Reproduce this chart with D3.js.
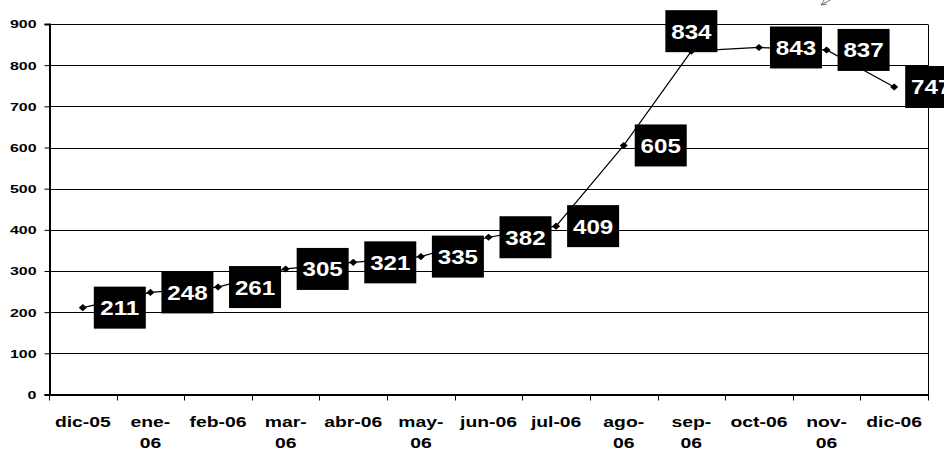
<!DOCTYPE html>
<html><head><meta charset="utf-8">
<script src="https://cdn.jsdelivr.net/npm/d3@7"></script>
<style>body{margin:0;background:#fff}svg{display:block}</style>
</head><body>
<svg id="c" width="944" height="450"></svg>
<script>
const categories = ["dic-05","ene-06","feb-06","mar-06","abr-06","may-06","jun-06","jul-06","ago-06","sep-06","oct-06","nov-06","dic-06"];
const values = [211,248,261,305,321,335,382,409,605,834,843,837,747];
const labelPlacement = ["right","right","right","right","right","right","right","right","right","above","right","right","right"];
const yTicks = [0,100,200,300,400,500,600,700,800,900];

const W = 944, H = 450;
const m = {left:49, right:928, top:24, bottom:394.5};
const font = "'Liberation Sans', Arial, sans-serif";
const svg = d3.select("#c");

const x = d3.scaleBand().domain(categories).range([m.left, m.right]);
const y = d3.scaleLinear().domain([0,900]).range([m.bottom, m.top]);

// gridlines
svg.append("g").selectAll("line").data(yTicks.filter(d=>d>0)).join("line")
  .attr("x1", m.left).attr("x2", m.right)
  .attr("y1", d=>Math.round(y(d))+0.5).attr("y2", d=>Math.round(y(d))+0.5)
  .attr("stroke", "#000").attr("stroke-width", 1);
// right border
svg.append("line").attr("x1", m.right+0.5).attr("x2", m.right+0.5)
  .attr("y1", Math.round(y(900))+0.5).attr("y2", m.bottom)
  .attr("stroke","#000");

// y axis
const yAxis = svg.append("g").attr("transform", `translate(${m.left+0.5},0)`)
  .call(d3.axisLeft(y).tickValues(yTicks).tickSize(5).tickPadding(8));
yAxis.select(".domain").attr("stroke","#000").attr("stroke-width",2);
yAxis.selectAll(".tick line").attr("stroke","#000").attr("stroke-width",1);
yAxis.selectAll(".tick text").attr("font-family", font).attr("font-weight","bold")
  .attr("font-size", 11).attr("fill","#000").attr("dy","0.36em")
  .each(function(){
    const t = d3.select(this);
    const xx = +t.attr("x");
    t.attr("x", 0).attr("transform", `translate(${xx},0) scale(1.45,1)`);
  });

// x axis
const xAxis = svg.append("g").attr("transform", `translate(0,${m.bottom})`)
  .call(d3.axisBottom(x).tickSize(0).tickFormat(""));
xAxis.select(".domain").attr("stroke","#000").attr("stroke-width",2);
// tick marks between bands
const bounds = categories.map(c=>x(c)).concat([m.right]);
svg.append("g").selectAll("line").data(bounds).join("line")
  .attr("x1", d=>Math.round(d)+0.5).attr("x2", d=>Math.round(d)+0.5)
  .attr("y1", m.bottom).attr("y2", m.bottom+6).attr("stroke","#000");

// x labels with wrapping
const fsX = 14, sxX = 1.38;
const xl = svg.append("g");
categories.forEach(c=>{
  const cx = x(c) + x.bandwidth()/2;
  const g = xl.append("g").attr("transform", `translate(${cx},427) scale(${sxX},1)`);
  const t = g.append("text").attr("text-anchor","middle").attr("font-family", font)
    .attr("font-weight","bold").attr("font-size", fsX).attr("fill","#000").text(c);
  const w = t.node().getComputedTextLength();
  if (w > 3.08*fsX) {
    const parts = c.split("-");
    t.text(null);
    t.append("tspan").attr("x",0).attr("dy",0).text(parts[0]+"-");
    t.append("tspan").attr("x",0).attr("dy",21).text(parts[1]);
  }
});

// line
const pts = values.map((v,i)=>[x(categories[i])+x.bandwidth()/2, y(v)]);
svg.append("path").datum(pts).attr("d", d3.line())
  .attr("fill","none").attr("stroke","#000").attr("stroke-width",1.2);
// markers (diamonds)
svg.append("g").selectAll("path").data(pts).join("path")
  .attr("d", d3.symbol().type(d3.symbolSquare).size(25))
  .attr("transform", d=>`translate(${d[0]},${d[1]}) scale(1.14,1) rotate(45)`)
  .attr("fill","#000");

// labels
const bw = 52, bh = 42;
const lg = svg.append("g");
values.forEach((v,i)=>{
  const [px,py] = pts[i];
  let bx, by;
  if (labelPlacement[i] === "above") { bx = px - bw/2; by = py + 1 - bh; }
  else { bx = px + 11; by = py - bh/2; }
  lg.append("rect").attr("x",bx).attr("y",by).attr("width",bw).attr("height",bh).attr("fill","#000");
  lg.append("g").attr("transform", `translate(${bx+bw/2},${by+bh/2+7.5}) scale(1.15,1)`)
    .append("text").attr("text-anchor","middle").attr("font-family",font).attr("font-weight","bold")
    .attr("font-size",21).attr("fill","#fff").text(v);
});

// small stray arrow at top
svg.append("path").attr("d","M821,5 L834,-2 M821,5 L824,0 M821,5 L827,4")
  .attr("fill","none").attr("stroke","#555").attr("stroke-width",0.8);
</script>
</body></html>
